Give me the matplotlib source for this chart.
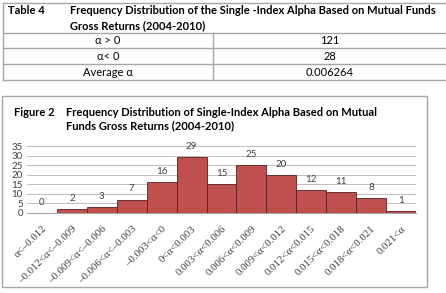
import matplotlib

matplotlib.use("Agg")
import matplotlib.pyplot as plt
from matplotlib.patches import Rectangle

W, H = 446, 293

# table data
table_title = ["Table 4", "Frequency Distribution of the Single -Index Alpha Based on Mutual Funds",
               "Gross Returns (2004-2010)"]
row_labels = ["α > 0", "α< 0", "Average α"]
row_values = ["121", "28", "0.006264"]

# chart data
categories = ["α<–0.012", "–0.012<α<–0.009", "–0.009<α<–0.006", "–0.006<α<–0.003",
              "–0.003<α<0", "0<α<0.003", "0.003<α<0.006", "0.006<α<0.009",
              "0.009<α<0.012", "0.012<α<0.015", "0.015<α<0.018", "0.018<α<0.021", "0.021<α"]
counts = [0, 2, 3, 7, 16, 29, 15, 25, 20, 12, 11, 8, 1]
y_ticks = [0, 5, 10, 15, 20, 25, 30, 35]

BAR = "#C0504D"
EDGE = "#5a1f1e"
GRID = "#bfbfbf"
SANS = ["Lato", "DejaVu Sans"]
SERIF = ["Liberation Serif", "DejaVu Serif"]


def px(x, y):
    """pixel coords (top-left origin) -> figure fraction"""
    return x / W, 1 - y / H


fig = plt.figure(figsize=(W / 100, H / 100), dpi=100)
fig.patch.set_facecolor("white")

# --- table -----------------------------------------------------------------
def hline(y, x0, x1, color="#a6a6a6", lw=1.0):
    fig.add_artist(plt.Line2D([x0 / W, x1 / W], [1 - y / H, 1 - y / H], color=color, lw=lw))


def vline(x, y0, y1, color="#a6a6a6", lw=1.0):
    fig.add_artist(plt.Line2D([x / W, x / W], [1 - y0 / H, 1 - y1 / H], color=color, lw=lw))


for y in [3, 33, 48, 64, 80]:
    hline(y, 3, 446)
vline(3, 3, 80)
vline(213, 33, 80)

fig.text(*px(8, 11), table_title[0], fontsize=8, fontweight="bold", family=SANS, va="center")
fig.text(*px(70, 11), table_title[1], fontsize=8, fontweight="bold", family=SANS, va="center")
fig.text(*px(70, 26), table_title[2], fontsize=8, fontweight="bold", family=SANS, va="center")

for i, (lab, val) in enumerate(zip(row_labels, row_values)):
    yc = 41 + i * 15.7
    fig.text(*px(108, yc), lab, fontsize=8, family=SANS, ha="center", va="center")
    fig.text(*px(330, yc), val, fontsize=8, family=SANS, ha="center", va="center")

# --- chart frame -------------------------------------------------------------
frame = Rectangle((2 / W, 1 - 287 / H), 425 / W, 191 / H, transform=fig.transFigure,
                  facecolor="none", edgecolor="#a6a6a6", lw=1.0, zorder=-1)
fig.add_artist(frame)

fig.text(*px(14, 113), "Figure 2", fontsize=8, fontweight="bold", family=SANS, va="center")
fig.text(*px(66, 113), "Frequency Distribution of Single-Index Alpha Based on Mutual",
         fontsize=8, fontweight="bold", family=SANS, va="center")
fig.text(*px(66, 126), "Funds Gross Returns (2004-2010)",
         fontsize=8, fontweight="bold", family=SANS, va="center")

# --- histogram ---------------------------------------------------------------
left, right, top, bottom = 27, 416, 146, 213
ax = fig.add_axes([left / W, 1 - bottom / H, (right - left) / W, (bottom - top) / H])
ax.set_facecolor("none")
x = range(len(categories))
ax.bar(x, counts, width=1.0, color=BAR, edgecolor=EDGE, linewidth=0.6, zorder=3)
for xi, c in zip(x, counts):
    ax.text(xi, c + 3.2, str(c), ha="center", va="bottom", fontsize=7,
            family=SANS, color="#404040", zorder=4)

ax.set_xlim(-0.5, len(categories) - 0.5)
ax.set_ylim(0, 35)
ax.set_yticks(y_ticks)
ax.set_yticklabels([str(t) for t in y_ticks], fontsize=7, family=SANS, color="#404040")
ax.yaxis.grid(True, color=GRID, lw=0.7, zorder=0)
ax.set_xticks(list(x))
ax.set_xticklabels(categories, rotation=45, ha="right", rotation_mode="anchor",
                   fontsize=7.8, family=SERIF, color="#404040")
ax.tick_params(axis="x", length=0, pad=8)
ax.tick_params(axis="y", length=0, pad=3)
for side in ["top", "right", "left"]:
    ax.spines[side].set_visible(False)
ax.spines["bottom"].set_color("#a6a6a6")

fig.savefig("out.png", dpi=100)
